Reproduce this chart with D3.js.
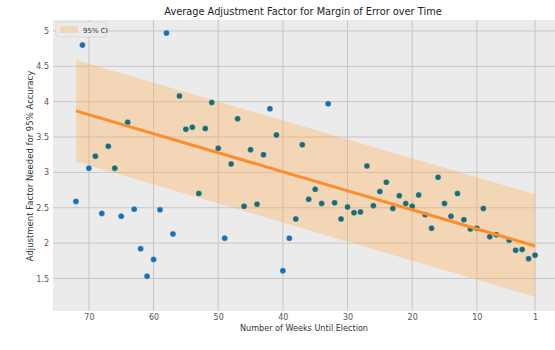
<!DOCTYPE html>
<html>
<head>
<meta charset="utf-8">
<script src="https://cdn.jsdelivr.net/npm/d3@7"></script>
<style>
  body { margin: 0; background: #fff; }
  svg { font-family: "DejaVu Sans", sans-serif; }
</style>
</head>
<body>
<div id="chart"></div>
<script>
// weeks until election and the adjustment factor
const weeks = [72, 71, 70, 69, 68, 67, 66, 65, 64, 63, 62, 61, 60, 59, 58, 57, 56, 55, 54, 53,
  52, 51, 50, 49, 48, 47, 46, 45, 44, 43, 42, 41, 40, 39, 38, 37, 36, 35, 34, 33,
  32, 31, 30, 29, 28, 27, 26, 25, 24, 23, 22, 21, 20, 19, 18, 17, 16, 15, 14, 13,
  12, 11, 10, 9, 8, 7, 5, 4, 3, 2, 1];
const factors = [2.59, 4.80, 3.06, 3.23, 2.42, 3.37, 3.06, 2.38, 3.71, 2.48, 1.92, 1.53, 1.77, 2.47, 4.97, 2.13, 4.08, 3.61, 3.64, 2.70,
  3.62, 3.99, 3.34, 2.07, 3.12, 3.76, 2.52, 3.32, 2.55, 3.25, 3.90, 3.53, 1.61, 2.07, 2.34, 3.39, 2.62, 2.76, 2.56, 3.97,
  2.57, 2.34, 2.51, 2.43, 2.44, 3.09, 2.53, 2.73, 2.86, 2.49, 2.67, 2.56, 2.52, 2.68, 2.40, 2.21, 2.93, 2.56, 2.38, 2.70,
  2.33, 2.20, 2.21, 2.49, 2.09, 2.12, 2.04, 1.90, 1.91, 1.78, 1.83];

// fitted line and 95% band at the two ends
const fitWeeks = [72, 1];
const fitValues = [3.87, 1.96];
const ciLow = [3.155, 1.24];
const ciHigh = [4.59, 2.69];

const xTicks = [70, 60, 50, 40, 30, 20, 10, 1];
const yTicks = [1.5, 2, 2.5, 3, 3.5, 4, 4.5, 5];

const width = 555, height = 350;
const margin = { left: 53, top: 20, right: -3, bottom: 39 };

const svg = d3.select("#chart").append("svg")
  .attr("width", width)
  .attr("height", height);

const x = d3.scaleLinear().domain([75.55, -2.55]).range([margin.left, width - margin.right]);
const y = d3.scaleLinear().domain([1.04, 5.155]).range([height - margin.bottom, margin.top]);

// band edges at any week, used to tint the points that sit under it
const lowAt = d3.scaleLinear().domain(fitWeeks).range(ciLow);
const highAt = d3.scaleLinear().domain(fitWeeks).range(ciHigh);

// plot background
svg.append("rect")
  .attr("x", margin.left)
  .attr("y", margin.top)
  .attr("width", width - margin.right - margin.left)
  .attr("height", height - margin.bottom - margin.top)
  .attr("fill", "#ebebeb");

// grid
svg.append("g").selectAll("line")
  .data(xTicks).enter().append("line")
  .attr("x1", d => x(d)).attr("x2", d => x(d))
  .attr("y1", margin.top).attr("y2", height - margin.bottom)
  .attr("stroke", "#c6c6c6").attr("stroke-width", 1);

svg.append("g").selectAll("line")
  .data(yTicks).enter().append("line")
  .attr("x1", margin.left).attr("x2", width - margin.right)
  .attr("y1", d => y(d)).attr("y2", d => y(d))
  .attr("stroke", "#c6c6c6").attr("stroke-width", 1);

// axes (labels only, no spines)
const xAxis = svg.append("g")
  .attr("transform", `translate(0, ${height - margin.bottom})`)
  .call(d3.axisBottom(x).tickValues(xTicks).tickSize(0).tickPadding(3).tickFormat(d3.format("d")));
const yAxis = svg.append("g")
  .attr("transform", `translate(${margin.left}, 0)`)
  .call(d3.axisLeft(y).tickValues(yTicks).tickSize(0).tickPadding(4).tickFormat(d => String(d)));
[xAxis, yAxis].forEach(a => {
  a.select(".domain").remove();
  a.selectAll("text").attr("fill", "#555").style("font-size", "8px").style("font-family", "DejaVu Sans, sans-serif");
});

// confidence band
const band = fitWeeks.map((w, i) => ({ w, lo: ciLow[i], hi: ciHigh[i] }));
svg.append("path")
  .datum(band)
  .attr("d", d3.area().x(d => x(d.w)).y0(d => y(d.lo)).y1(d => y(d.hi)))
  .attr("fill", "#ffb050")
  .attr("opacity", 0.35);

// scatter
svg.append("g").selectAll("circle")
  .data(weeks).enter().append("circle")
  .attr("cx", d => x(d))
  .attr("cy", (d, i) => y(factors[i]))
  .attr("r", 3)
  .attr("fill", (d, i) => (factors[i] >= lowAt(d) && factors[i] <= highAt(d)) ? "#1b6b73" : "#1570b5")
  .attr("stroke", "#ffffff")
  .attr("stroke-opacity", 0.6)
  .attr("stroke-width", 0.5);

// fitted line
svg.append("path")
  .datum(fitWeeks.map((w, i) => ({ w, v: fitValues[i] })))
  .attr("d", d3.line().x(d => x(d.w)).y(d => y(d.v)))
  .attr("fill", "none")
  .attr("stroke", "#ff8c2a")
  .attr("stroke-width", 3);

// legend
const legend = svg.append("g").attr("transform", "translate(56, 22)");
legend.append("rect")
  .attr("width", 50).attr("height", 15)
  .attr("fill", "#ebebeb").attr("stroke", "#d0d0d0").attr("stroke-width", 0.6).attr("rx", 2);
legend.append("rect")
  .attr("x", 4).attr("y", 4).attr("width", 18).attr("height", 7)
  .attr("fill", "#ffb050").attr("opacity", 0.35);
legend.append("text")
  .attr("x", 27).attr("y", 10.5)
  .attr("fill", "#333").style("font-size", "7px")
  .text("95% CI");

// title and axis labels
svg.append("text")
  .attr("x", 303).attr("y", 15)
  .attr("text-anchor", "middle")
  .attr("fill", "#222").style("font-size", "9.8px")
  .text("Average Adjustment Factor for Margin of Error over Time");

svg.append("text")
  .attr("x", 304).attr("y", 330.5)
  .attr("text-anchor", "middle")
  .attr("fill", "#333").style("font-size", "8.1px")
  .text("Number of Weeks Until Election");

svg.append("text")
  .attr("transform", `translate(33, 166) rotate(-90)`)
  .attr("text-anchor", "middle")
  .attr("fill", "#333").style("font-size", "8.5px")
  .text("Adjustment Factor Needed for 95% Accuracy");
</script>
</body>
</html>
